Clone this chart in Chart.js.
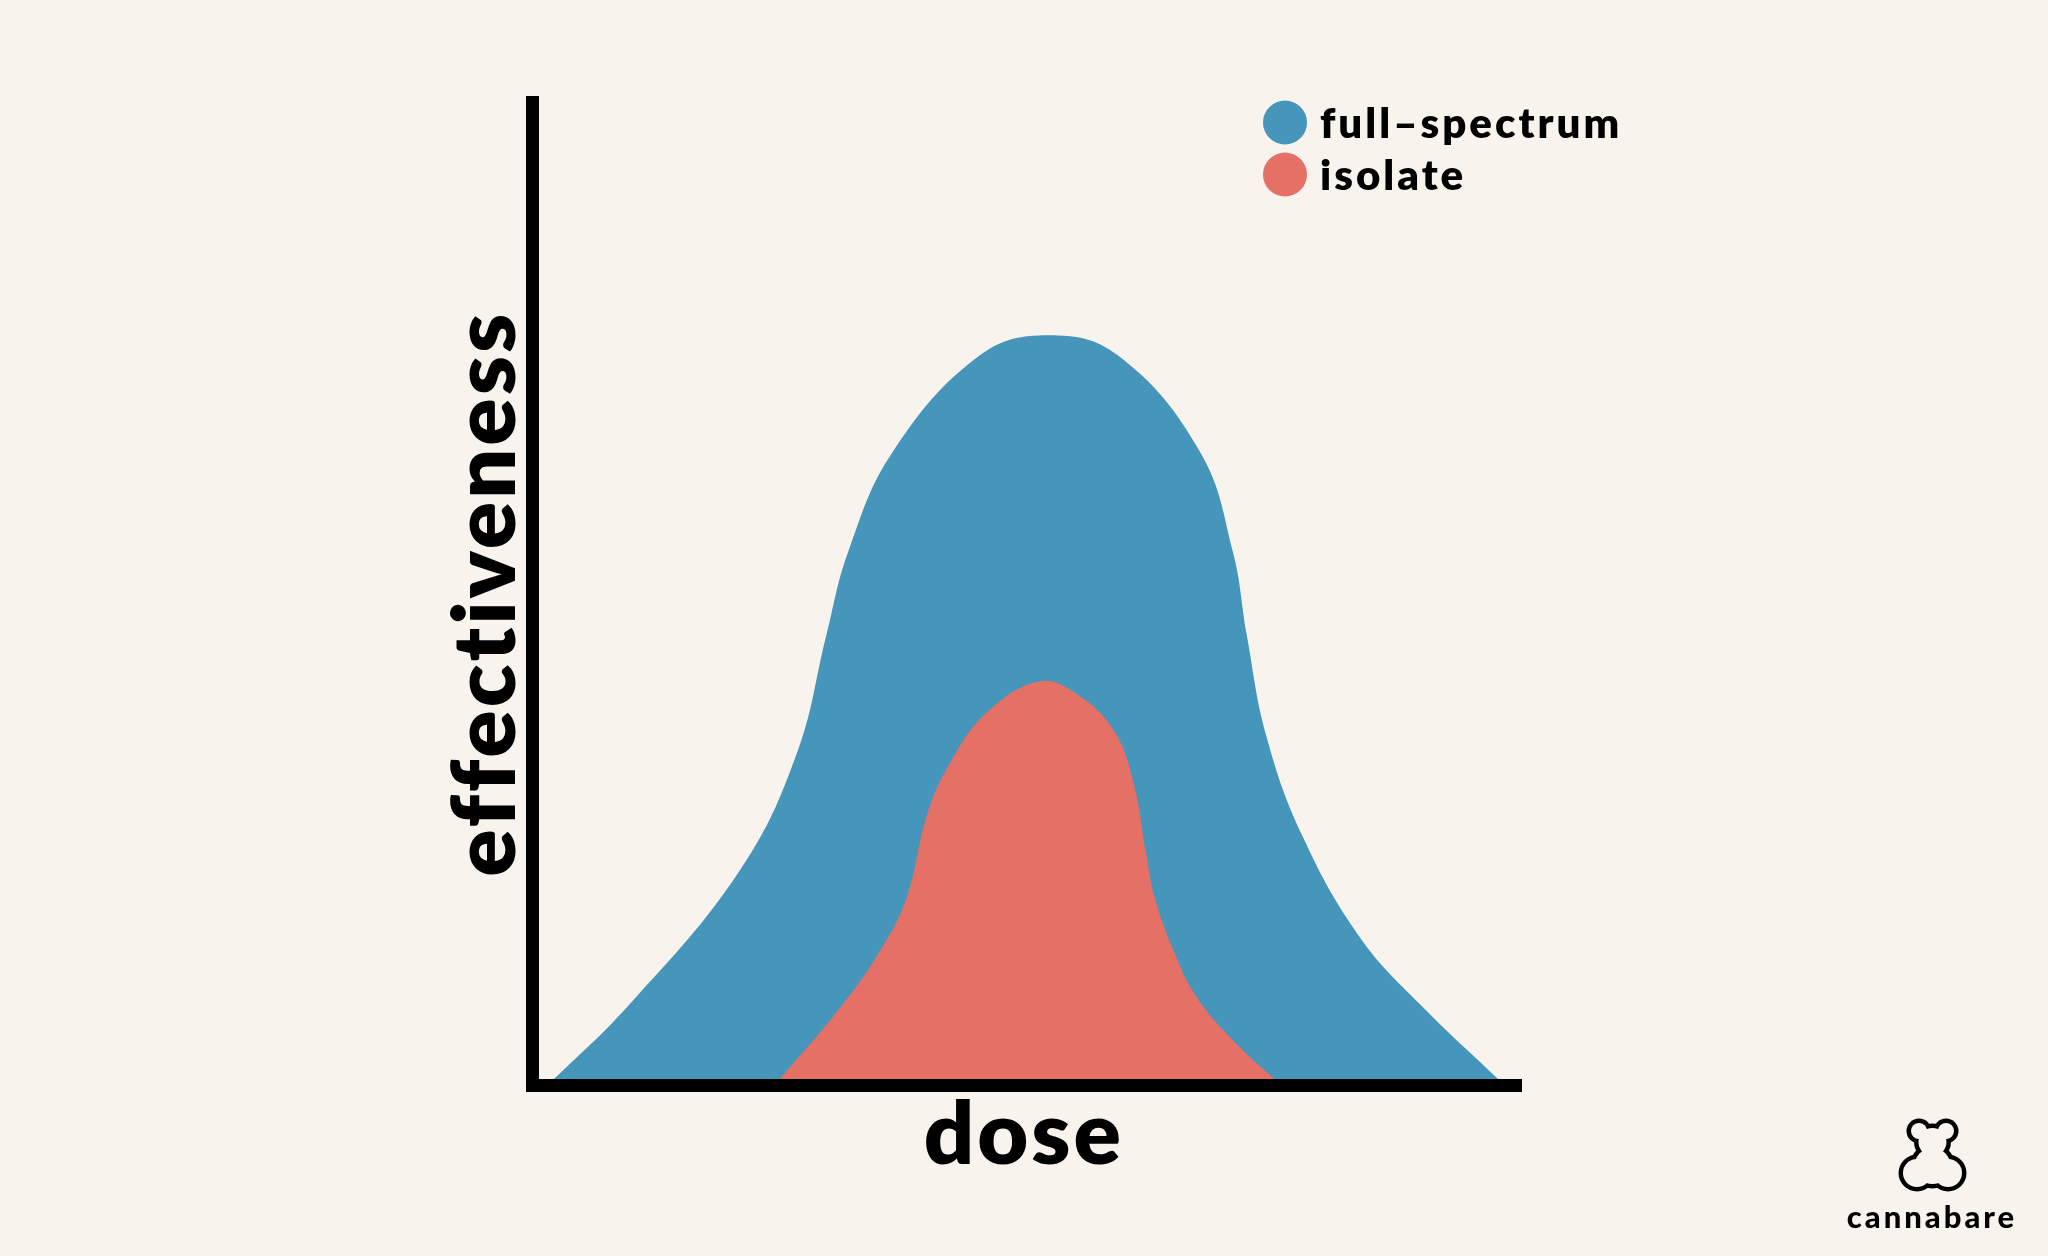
<!DOCTYPE html>
<html>
<head>
<meta charset="utf-8">
<script src="https://cdn.jsdelivr.net/npm/chart.js@4.4.0/dist/chart.umd.min.js"></script>
<style>
html,body{margin:0;padding:0;background:#F8F3EC;}
canvas{display:block;}
</style>
</head>
<body>
<canvas id="c" width="2048" height="1256" style="width:2048px;height:1256px"></canvas>
<script>
// ---- data (dose on x, effectiveness on y, both 0..100) ----
const seriesLabels = ['full–spectrum', 'isolate'];
const axisTitles = { x: 'dose', y: 'effectiveness' };
const brandName = 'cannabare';

const fullX = [1.5, 9.9, 21.1, 26.9, 29.9, 32.1, 36.7, 45.6, 52.5, 59.5, 67.9, 71.3, 72.7, 74.7, 78.4, 84.2, 90.3, 99.0];
const fullY = [0, 8.3, 21.9, 33.8, 45.8, 54.2, 64.5, 74.3, 76.3, 74.3, 64.5, 54.2, 45.8, 35.5, 25.3, 15.1, 8.3, 0];

const isoX = [24.6, 31.6, 35.6, 38.1, 40.2, 42.5, 46.2, 51.6, 55.7, 59.1, 61.1, 62.5, 63.3, 65.1, 67.6, 72.0, 76.3];
const isoY = [0, 8.3, 14.1, 19.2, 27.7, 32.8, 37.9, 41.1, 39.6, 36.2, 31.1, 23.3, 19.2, 14.1, 9.0, 3.9, 0];

// ---- styles ----
const BG = '#F8F3EC';
const BLUE = '#4695BA';
const RED = '#E47066';
const FONT = 'Lato';

const toPoints = (xs, ys) => xs.map((x, i) => ({ x: x, y: ys[i] }));

const bgPlugin = {
  id: 'bg',
  beforeDraw(chart) {
    const ctx = chart.ctx;
    ctx.save();
    ctx.fillStyle = BG;
    ctx.fillRect(0, 0, chart.width, chart.height);
    ctx.restore();
    ctx.lineCap = 'butt';
    ctx.letterSpacing = '3px';
  }
};

const legendPlugin = {
  id: 'customLegend',
  afterDraw(chart) {
    const ctx = chart.ctx;
    ctx.save();
    ctx.letterSpacing = '3px';
    ctx.font = '800 42px ' + FONT;
    ctx.textBaseline = 'alphabetic';
    ctx.textAlign = 'left';
    chart.data.datasets.forEach((ds, i) => {
      const cy = 122.5 + i * 52;
      ctx.fillStyle = ds.backgroundColor;
      ctx.beginPath();
      ctx.arc(1285, cy, 22, 0, Math.PI * 2);
      ctx.fill();
      ctx.fillStyle = '#000';
      ctx.fillText(ds.label, 1320, cy + 15.5);
    });
    ctx.restore();
  }
};

const logoPlugin = {
  id: 'logo',
  afterDraw(chart) {
    const ctx = chart.ctx;
    ctx.save();
    const circles = [
      [1919, 1131, 8], [1946, 1131, 8],
      [1932.5, 1142, 14],
      [1917, 1173, 14], [1948, 1173, 14],
      [1932.5, 1166, 18]
    ];
    const w = 4.5;
    ctx.fillStyle = '#000';
    circles.forEach(c => { ctx.beginPath(); ctx.arc(c[0], c[1], c[2] + w, 0, Math.PI * 2); ctx.fill(); });
    ctx.fillStyle = BG;
    circles.forEach(c => { ctx.beginPath(); ctx.arc(c[0], c[1], c[2], 0, Math.PI * 2); ctx.fill(); });
    ctx.fillStyle = '#000';
    ctx.letterSpacing = '3px';
    ctx.font = '900 31px ' + FONT;
    ctx.textAlign = 'center';
    ctx.textBaseline = 'alphabetic';
    ctx.fillText(brandName, 1932, 1228);
    ctx.restore();
  }
};

new Chart(document.getElementById('c'), {
  type: 'line',
  data: {
    datasets: [
      {
        label: seriesLabels[0],
        data: toPoints(fullX, fullY),
        backgroundColor: BLUE,
        borderColor: BLUE,
        borderWidth: 0,
        pointRadius: 0,
        fill: 'origin',
        tension: 0.4,
        order: 2
      },
      {
        label: seriesLabels[1],
        data: toPoints(isoX, isoY),
        backgroundColor: RED,
        borderColor: RED,
        borderWidth: 0,
        pointRadius: 0,
        fill: 'origin',
        tension: 0.4,
        order: 1
      }
    ]
  },
  options: {
    responsive: false,
    animation: false,
    devicePixelRatio: 1,
    layout: { padding: { left: 406, right: 533, top: 102, bottom: 70 } },
    plugins: {
      legend: { display: false },
      tooltip: { enabled: false },
      filler: { propagate: false }
    },
    scales: {
      x: {
        type: 'linear',
        min: 0, max: 100,
        grid: { display: false, drawTicks: false, lineWidth: 13 },
        ticks: { display: false },
        border: { display: true, color: '#000', width: 13, z: 1 },
        title: {
          display: true,
          text: axisTitles.x,
          color: '#000',
          font: { family: FONT, size: 88, weight: '800', lineHeight: 1.14 },
          padding: { top: 0, bottom: 0 }
        }
      },
      y: {
        type: 'linear',
        min: 0, max: 100,
        grid: { display: false, drawTicks: false, lineWidth: 13 },
        ticks: { display: false },
        border: { display: true, color: '#000', width: 13, z: 1 },
        title: {
          display: true,
          text: axisTitles.y,
          color: '#000',
          font: { family: FONT, size: 88, weight: '800', lineHeight: 1.2 },
          padding: { top: 28, bottom: -7 }
        }
      }
    }
  },
  plugins: [bgPlugin, legendPlugin, logoPlugin]
});
</script>
</body>
</html>
